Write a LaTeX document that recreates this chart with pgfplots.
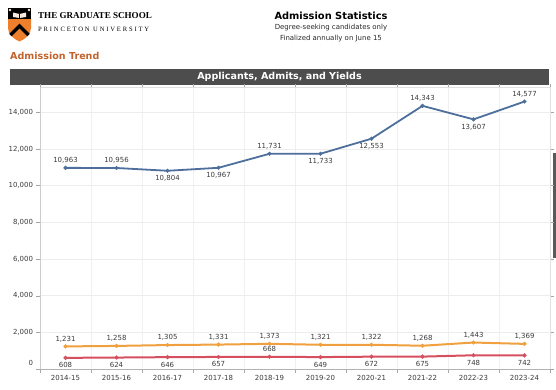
\documentclass[border=0pt]{standalone}
\usepackage{pgfplots}
\pgfplotsset{compat=1.18}
\usepackage{fontspec}
\setmainfont{DejaVu Sans}
\newfontfamily\serifhead{Liberation Serif}
\newfontfamily\serifspaced[LetterSpace=28]{Liberation Serif}

\definecolor{cblue}{HTML}{4E6F9C}
\definecolor{corange}{HTML}{F0A03E}
\definecolor{cred}{HTML}{D64F5F}
\definecolor{banner}{HTML}{4D4D4D}
\definecolor{trend}{HTML}{C2622D}
\definecolor{pu}{HTML}{EE7F2D}
\definecolor{lbl}{HTML}{3A3A3A}

\pgfplotsset{
  lblup/.style={draw=none, mark=none, nodes near coords, nodes near coords align={center},
    every node near coord/.append style={yshift=7.5bp, font=\fontsize{7}{8}\selectfont, text=lbl, inner sep=0pt}},
  lbldn/.style={draw=none, mark=none, nodes near coords, nodes near coords align={center},
    every node near coord/.append style={yshift=-7.5bp, font=\fontsize{7}{8}\selectfont, text=lbl, inner sep=0pt}},
}

\begin{document}
\begin{tikzpicture}[x=1bp,y=1bp]
\path[use as bounding box] (0bp,0bp) rectangle (556bp,-390bp);
% logo
\fill[pu] (8,-18) -- (31,-18) -- (31,-28) .. controls (31,-35) and (25,-39) .. (19.5,-41.5) .. controls (14,-39) and (8,-35) .. (8,-28) -- cycle;
\fill[black] (8,-8) rectangle (31,-19);
\draw[black, line width=3.2bp] (10.5,-35) -- (19.5,-26) -- (28.5,-35);
\fill[white!85!pu] (13,-12.5) -- (19.5,-14) -- (26,-12.5) -- (26,-17) -- (19.5,-18) -- (13,-17) -- cycle;
\draw[black, line width=0.5bp] (19.5,-14) -- (19.5,-18);
\fill[white!80!pu] (10,-10) circle (1.3bp) (29,-10) circle (1.3bp);
% header text
\node[anchor=west, inner sep=0pt, font=\serifhead\bfseries\fontsize{9.1}{10}\selectfont] at (38,-16) {THE GRADUATE SCHOOL};
\node[anchor=west, inner sep=0pt, font=\serifspaced\fontsize{6.6}{8}\selectfont] at (38,-29) {PRINCETON UNIVERSITY};
\node[inner sep=0pt, font=\bfseries\fontsize{9.9}{11}\selectfont] at (331,-15.5) {Admission Statistics};
\node[inner sep=0pt, font=\fontsize{7}{8}\selectfont, text=black!85] at (331,-28) {Degree-seeking candidates only};
\node[inner sep=0pt, font=\fontsize{7}{8}\selectfont, text=black!85] at (331,-38.5) {Finalized annually on June 15};
\node[anchor=west, inner sep=0pt, font=\bfseries\fontsize{9.6}{11}\selectfont, text=trend] at (10,-56) {Admission Trend};
\fill[banner] (10,-69) rectangle (549,-84.5);
\node[inner sep=0pt, font=\bfseries\fontsize{9.6}{11}\selectfont, text=white] at (279.5,-76.8) {Applicants, Admits, and Yields};
\fill[black!65] (553,-153) rectangle (556,-258);

\begin{axis}[
  at={(40bp,-369bp)}, anchor=south west,
  scale only axis, width=510bp, height=282bp,
  xmin=-0.5, xmax=9.5, ymin=0, ymax=15370,
  xtick={0,...,9},
  xticklabels={2014-15,2015-16,2016-17,2017-18,2018-19,2019-20,2020-21,2021-22,2022-23,2023-24},
  minor xtick={-0.5,0.5,...,9.5},
  xminorgrids, minor grid style={draw=black!6},
  ytick={2000,4000,...,14000},
  extra y ticks={0},
  extra y tick style={yticklabel style={yshift=6bp}, grid=none},
  ymajorgrids, major grid style={draw=black!7},
  major x tick style={draw=none},
  minor x tick style={draw=black!35},
  y tick style={draw=black!35},
  tick align=outside, major tick length=3.5bp, minor tick length=3.5bp,
  axis line style={draw=black!12},
  tick label style={font=\fontsize{7}{8}\selectfont, text=lbl},
  scaled y ticks=false,
  /pgf/number format/1000 sep={,},
  /pgf/number format/assume math mode=true,
  xticklabel style={yshift=1bp},
  clip=false,
]
\draw[black!30] (rel axis cs:0,0) -- (rel axis cs:1,0);
\draw[black!20] (rel axis cs:0,0) -- (rel axis cs:0,1);
% Applicants
\addplot[cblue, line width=1.8bp, mark=*, mark size=1.9bp, mark options={line width=0.4bp}] coordinates {
 (0,10963) (1,10956) (2,10804) (3,10967) (4,11731) (5,11733) (6,12553) (7,14343) (8,13607) (9,14577)};
\addplot[lblup] coordinates {(0,10963) (1,10956) (4,11731) (7,14343) (9,14577)};
\addplot[lbldn] coordinates {(2,10804) (3,10967) (5,11733) (6,12553) (8,13607)};
% Admits
\addplot[corange, line width=2bp, mark=*, mark size=1.9bp, mark options={line width=0.4bp}, nodes near coords, nodes near coords align={center},
  every node near coord/.append style={yshift=7.5bp, font=\fontsize{7}{8}\selectfont, text=lbl, inner sep=0pt}] coordinates {
 (0,1231) (1,1258) (2,1305) (3,1331) (4,1373) (5,1321) (6,1322) (7,1268) (8,1443) (9,1369)};
% Yields
\addplot[cred, line width=2bp, mark=*, mark size=1.9bp, mark options={line width=0.4bp}] coordinates {
 (0,608) (1,624) (2,646) (3,657) (4,668) (5,649) (6,672) (7,675) (8,748) (9,742)};
\addplot[lbldn] coordinates {(0,608) (1,624) (2,646) (3,657) (5,649) (6,672) (7,675) (8,748) (9,742)};
\addplot[lblup] coordinates {(4,668)};
\end{axis}
\end{tikzpicture}
\end{document}
